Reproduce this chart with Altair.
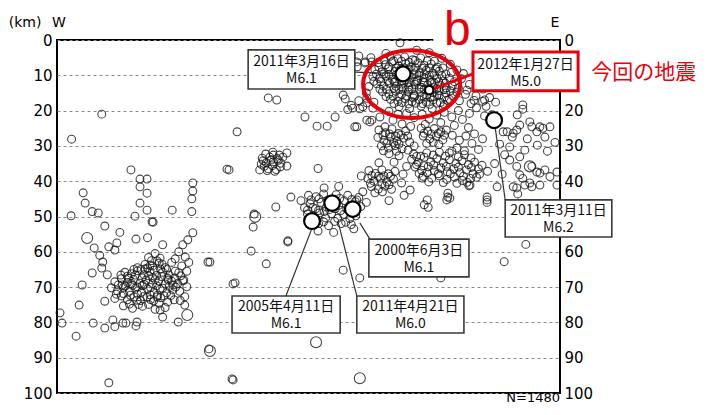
import altair as alt
import pandas as pd

# ---------------- hypocentres (x: W->E distance, depth km) ----------------
cluster_b_core = [
    (66.2,4.6),(67.8,5.3),(69.1,4.8),(70.7,5.6),(72.3,5.1),(63.9,6.4),(65.3,7.0),(66.6,6.2),(67.9,7.3),(69.3,6.7),
    (70.4,7.6),(71.8,6.5),(73.0,7.2),(74.4,6.8),(75.6,7.7),(63.2,8.4),(64.6,9.0),(65.8,8.2),(67.2,8.9),(68.4,8.1),
    (69.6,9.2),(70.9,8.5),(72.1,9.3),(73.4,8.6),(74.7,9.4),(76.0,8.8),(77.3,9.6),(62.8,10.3),(64.1,10.9),(65.4,10.2),
    (66.7,11.1),(67.9,10.5),(69.2,11.3),(70.5,10.6),(71.7,11.4),(73.0,10.7),(74.2,11.5),(75.5,10.9),(76.8,11.6),(78.0,10.8),
    (63.6,12.4),(64.9,13.0),(66.1,12.3),(67.4,13.1),(68.6,12.5),(69.9,13.3),(71.2,12.6),(72.4,13.4),(73.7,12.7),(74.9,13.5),
    (76.2,12.8),(77.4,13.6),(78.6,12.9),(64.7,14.6),(66.0,15.3),(67.3,14.5),(68.5,15.4),(69.8,14.7),(71.0,15.5),(72.3,14.8),
    (73.5,15.6),(74.8,14.9),(76.0,15.7),(77.3,15.0),(78.7,15.8),(66.3,16.8),(67.8,17.4),(69.2,16.6),(70.6,17.5),(72.0,16.9),
    (73.4,17.6),(74.8,16.9),(76.2,17.7),(77.6,17.1),(68.0,18.9),(70.1,19.4),(72.4,18.7),(74.6,19.5),(76.8,18.9),
    (66.0,9.8),(68.0,10.0),(70.0,9.9),(72.0,10.1),(74.0,10.0),(67.0,12.0),(69.0,12.0),(71.0,11.9),(73.0,12.1),(75.0,12.2),
    (68.0,14.0),(70.0,14.2),(72.0,13.9),(74.0,14.1),(76.0,14.3),(71.0,16.0),(73.0,16.2),(75.0,16.1),
]
cluster_b_fill = [
    (65.0,5.6),(66.9,5.9),(68.5,6.0),(70.0,6.3),(71.2,5.8),(73.6,5.9),(75.0,6.0),
    (64.0,7.7),(66.0,7.6),(67.5,8.0),(69.0,7.9),(70.0,8.2),(71.3,7.9),(72.6,8.0),(74.0,7.9),(75.3,8.2),(76.7,7.9),
    (63.5,9.7),(65.0,9.6),(67.5,9.8),(69.0,10.0),(71.0,9.6),(73.0,9.7),(75.0,9.9),(76.5,10.1),(78.4,9.2),
    (63.0,11.7),(64.4,11.8),(65.8,11.6),(67.2,11.9),(68.6,11.6),(70.0,12.0),(71.5,11.7),(72.8,11.8),(74.5,12.0),(75.9,11.8),
    (77.2,12.2),(79.0,11.8),(64.2,13.9),(65.5,14.0),(67.0,13.7),(68.8,13.7),(70.6,13.8),(73.0,13.9),(75.5,13.8),(77.0,14.0),
    (78.2,14.4),(79.5,14.8),(65.4,16.0),(66.8,15.9),(68.0,16.1),(69.5,15.8),(70.8,16.4),(72.6,15.9),(74.2,16.3),(75.6,15.5),
    (77.0,16.2),(78.0,16.8),(67.0,18.0),(68.6,17.7),(69.9,18.1),(71.3,17.9),(72.7,18.0),(74.1,18.2),(75.5,17.9),(77.0,18.3),
]
cluster_b_halo = [
    (60.0,4.5),(61.3,6.2),(59.7,7.6),(62.4,5.0),(65.4,3.8),(68.2,0.8),(71.5,2.9),(74.0,3.6),(76.5,5.2),(78.2,6.9),
    (79.5,8.5),(80.4,11.0),(79.8,13.6),(81.2,15.4),(80.0,17.2),(82.3,18.0),(63.0,17.6),(61.5,15.0),(62.0,13.2),
    (59.6,6.2),(61.2,6.5),(62.6,6.2),(80.8,9.5),(82.0,12.6),(81.5,14.2),(83.3,15.8),(84.7,13.9),(86.0,16.3),(85.3,18.8),
    (87.2,17.6),(82.9,17.1),
]
below_b = [
    (58.5,18.5),(60.0,17.2),(61.6,16.5),(60.8,18.9),(62.8,19.3),(64.2,21.8),(62.2,23.2),(61.6,22.7),(59.6,24.6),(65.2,24.6),
    (66.8,22.7),(66.0,20.2),(67.8,21.0),(69.5,20.8),(71.0,22.0),(72.6,21.0),(74.0,22.4),(75.5,21.3),(77.0,20.5),(78.5,21.8),
    (79.8,20.0),(68.6,23.8),(70.3,24.5),(73.2,23.9),(76.3,23.4),(79.0,24.2),(80.6,22.5),(82.0,20.8),(83.4,19.2),(84.6,17.4),
    (85.0,21.5),(81.8,24.8),(83.0,26.6),
]
east_side = [
    (92.6,18.4),(92.6,19.6),(91.5,21.2),(94.0,23.2),(96.0,24.6),(91.4,25.5),(90.5,27.5),(89.5,26.0),(90.7,26.4),(92.0,24.1),
    (93.0,31.2),(94.4,24.6),(95.4,26.0),(96.6,25.0),(98.0,24.6),(97.0,27.5),(90.0,30.3),(92.0,33.1),(91.4,35.8),(92.6,39.2),
    (94.4,35.8),(96.0,37.7),(98.0,38.7),(94.4,41.6),(85.5,45.3),(87.5,41.6),(99.4,37.4),(97.0,36.8),(95.4,37.4),(90.0,34.0),
    (92.0,38.2),(90.7,41.6),(94.0,40.5),(91.4,41.9),(93.0,41.1),(96.0,41.1),(91.6,43.6),(99.4,41.1),(88.7,26.0),(86.5,21.2),
    (85.0,17.0),(88.0,29.5),(89.0,32.5),(87.0,35.0),(88.5,38.0),(97.5,31.5),(99.0,29.0),(95.5,29.8),(93.5,28.0),
]
slab = [
    (64.0,25.5),(65.3,26.3),(66.6,25.2),(67.9,26.5),(69.3,25.8),(63.8,27.6),(65.0,28.4),(66.3,27.5),(67.6,28.6),(68.9,27.8),
    (70.1,28.9),(64.5,30.0),(65.9,30.6),(67.2,29.9),(68.6,30.8),(69.8,31.2),(66.0,32.2),(68.0,32.8),
    (72.4,25.0),(73.7,25.8),(75.0,25.1),(76.3,26.0),(77.4,25.5),(72.8,27.2),(74.1,28.0),(75.4,27.3),(76.7,28.3),(73.5,29.3),
    (75.9,29.6),(78.6,27.0),(80.0,28.4),(81.3,27.2),(82.5,29.3),(79.5,30.6),(81.0,31.4),(83.8,31.0),(84.6,28.0),(78.0,32.0),
    (71.0,30.0),(71.5,33.0),
    (70.5,33.8),(71.8,34.6),(73.0,33.2),(74.3,34.5),(75.5,33.6),(76.8,34.8),(78.0,33.9),(79.3,35.0),(80.5,34.2),(81.8,35.3),
    (83.0,34.6),(71.2,36.0),(72.5,36.9),(73.8,35.9),(75.0,37.0),(76.3,36.2),(77.6,37.3),(78.9,36.5),(80.1,37.6),(81.4,36.8),
    (82.7,37.9),(72.8,38.6),(74.5,39.2),(76.0,38.5),(77.5,39.5),(79.0,38.8),(80.6,39.8),(82.2,39.2),(84.0,38.0),(84.5,35.5),
    (85.6,37.2),(73.5,32.0),(76.0,31.8),(78.5,31.5),(81.0,32.5),
    (62.0,37.0),(63.3,37.8),(64.6,36.8),(65.9,37.9),(67.2,37.2),(61.8,39.2),(63.0,40.0),(64.3,39.1),(65.6,40.2),(66.9,39.4),
    (62.5,41.5),(63.9,42.2),(65.2,41.4),(66.5,42.3),(68.5,40.5),(68.8,38.0),(69.5,35.8),(67.0,34.6),(64.0,34.8),(60.5,38.5),
    (70.2,42.5),(72.6,39.1),(77.7,44.5),(82.1,41.1),(85.5,44.5),(78.1,44.8),(73.6,45.3),(60.8,43.0),(59.6,45.3),(73.0,46.7),
    (73.8,47.4),(77.5,45.3),(85.5,46.0),(77.7,43.4),(81.9,41.3),(69.0,44.0),(66.0,45.5),
]
slab_fill = [
    (70.9,32.3),(72.3,32.9),(74.8,32.6),(77.2,32.9),(79.8,33.1),(82.3,33.4),(71.5,35.3),(72.9,35.6),(74.9,35.4),(77.4,35.8),
    (79.8,36.0),(82.4,36.1),(83.8,36.5),(72.0,37.8),(73.6,37.6),(75.8,37.9),(78.2,37.9),(80.8,38.6),(83.4,38.9),(73.9,40.2),
    (76.8,40.4),(79.5,40.6),(81.5,40.3),(64.8,26.9),(66.1,26.6),(67.3,27.2),(68.4,26.9),(65.6,29.2),(66.9,29.0),(68.0,29.5),
    (64.9,31.4),(67.5,31.5),(69.7,27.2),(73.0,26.4),(74.4,26.6),(75.8,26.5),(77.0,27.0),(74.8,29.0),(62.6,38.4),(63.9,38.6),
    (65.0,38.5),(66.3,38.6),(62.3,40.6),(64.6,40.7),(66.0,41.0),(63.2,43.3),(64.7,43.0),
]
middle = [
    (56.9,15.6),(57.3,16.7),(58.8,19.3),(61.6,17.8),(49.3,21.8),(51.7,24.4),(53.7,24.4),(55.3,21.8),(59.2,24.6),(62.6,22.7),
    (42.0,16.4),(43.7,17.0),(35.8,26.0),(57.8,19.7),(60.2,19.5),
    (40.8,33.5),(41.6,34.8),(42.3,33.2),(43.0,34.5),(43.8,33.6),(44.5,34.9),(41.2,35.8),(42.0,36.5),(42.8,35.6),(43.6,36.7),
    (44.4,35.9),(41.5,32.3),(42.9,31.8),(44.2,32.6),(45.7,32.0),(45.7,35.7),(40.3,36.8),(43.3,37.2),(33.8,36.6),(34.2,36.8),
    (51.9,36.4),(41.0,34.2),(42.6,34.0),(44.0,34.1),(41.8,37.0),(43.0,32.6),(44.9,33.2),(40.6,35.2),
    (49.2,47.5),(50.3,46.4),(51.4,47.8),(52.5,46.0),(53.6,47.3),(54.8,45.2),(56.0,46.8),(57.1,45.5),(58.2,46.9),(59.3,45.8),
    (60.4,47.2),(49.8,49.3),(51.0,50.2),(52.2,49.0),(53.4,50.4),(54.6,49.2),(55.8,50.5),(57.0,49.4),(58.2,50.6),(59.4,49.8),
    (51.5,44.4),(53.0,43.6),(55.5,43.8),(57.8,44.0),(60.0,44.6),(52.0,52.0),(54.0,52.6),(56.5,52.0),(58.5,52.3),(48.5,45.5),
    (50.0,44.0),(53.1,41.9),(46.5,44.5),(43.5,47.3),(61.5,46.0),(56.0,41.5),(59.0,53.5),(55.0,54.5),(51.9,54.1),
    (49.8,48.2),(50.9,47.5),(52.0,48.3),(53.1,48.6),(54.2,48.0),(55.3,47.8),(56.4,48.3),(57.6,47.9),(58.8,48.4),(50.5,45.3),
    (52.1,45.0),(53.8,45.4),(56.2,44.9),(58.6,45.2),(50.8,51.3),(53.0,51.5),(55.2,51.4),(57.4,51.6),
    (39.2,49.3),(39.0,53.0),(45.9,56.9),(38.6,59.8),(41.6,63.4),(30.4,62.9),(35.4,68.8),(56.9,65.2),(60.2,67.4),
    (30.2,87.5),(34.8,96.0),(76.3,67.4),(93.2,57.9),(88.9,62.8),(35.0,69.1),(45.9,57.2),
]
west = [
    (19.5,60.5),(20.5,61.8),(18.8,62.5),(17.5,63.6),(19.0,64.0),(20.3,63.2),(21.5,64.5),(16.0,64.5),(22.8,63.0),
    (13.5,65.8),(14.8,66.2),(16.0,65.4),(17.3,66.5),(18.5,65.6),(19.8,66.7),(21.0,65.8),(22.3,66.6),(23.5,65.5),(24.6,66.8),
    (11.5,68.5),(12.8,67.6),(14.0,68.7),(15.2,67.8),(16.5,68.9),(17.7,68.0),(19.0,69.0),(20.2,68.2),(21.5,69.1),(22.8,68.3),
    (24.0,69.0),(25.2,68.0),(10.8,70.2),(12.0,71.0),(13.2,70.1),(14.4,71.2),(15.6,70.3),(16.8,71.4),(18.0,70.5),(19.3,71.5),
    (20.5,70.6),(21.8,71.6),(23.0,70.8),(24.4,71.2),(11.5,73.2),(12.8,72.5),(14.0,73.6),(15.3,72.8),(16.6,73.8),(17.9,72.9),
    (19.2,73.9),(20.6,73.0),(22.0,74.2),(13.2,75.3),(15.0,76.0),(17.0,75.4),(19.5,76.3),(21.5,75.8),
    (15.0,69.5),(17.0,69.6),(19.0,67.3),(16.0,72.0),(18.5,72.2),(14.0,66.9),(20.0,72.3),(13.0,69.4),(22.0,67.5),(17.5,64.9),
    (25.0,58.0),(26.0,56.6),(27.0,54.6),(24.2,60.0),(25.5,61.5),(23.5,62.0),(26.2,63.0),(24.8,64.0),(25.8,65.5),(23.1,69.4),
    (25.0,68.2),(25.8,69.9),(25.4,72.7),(25.4,75.1),
    (14.7,36.8),(16.5,39.4),(17.9,39.4),(16.5,41.6),(17.9,43.4),(16.5,46.2),(17.9,48.2),(15.5,49.9),(19.1,51.6),(27.0,40.5),
    (27.0,42.8),(26.8,45.0),(26.8,48.6),(22.9,48.2),(5.2,43.3),(5.6,46.2),(7.0,48.6),(8.2,49.0),(2.8,49.8),(9.5,52.7),
    (7.4,58.9),(10.3,58.6),(11.9,57.5),(11.5,59.5),(15.7,56.4),(9.1,62.9),(8.9,64.6),(7.0,66.0),(5.0,69.4),
    (4.4,75.1),(0.6,77.3),(1.0,80.2),(7.2,80.2),(11.1,79.3),(13.1,80.2),(15.9,79.9),(24.1,79.9),(20.5,76.5),(30.0,62.9),
    (3.8,83.9),(9.5,81.6),(11.5,81.2),(13.7,80.2),(15.7,81.0),(10.3,97.1),(18.9,51.5),(35.0,96.3),
    (2.9,28.1),(8.9,21.0),(18.0,56.0),(12.5,54.5),(21.0,58.0),(8.5,61.0),(10.0,66.5),(9.5,74.0),(21.0,78.5),
]
west_fill = [
    (18.2,61.6),(19.9,62.6),(18.5,63.9),(20.9,63.5),(15.3,65.0),(16.7,65.0),(18.0,64.6),(19.3,65.2),(20.6,64.9),(21.8,65.0),
    (12.7,66.6),(14.2,67.5),(15.6,66.6),(16.9,67.4),(18.2,66.8),(19.5,67.9),(20.8,67.0),(22.1,68.0),(23.4,67.4),(24.2,65.9),
    (12.2,69.4),(13.6,69.7),(14.8,69.0),(16.0,70.0),(17.3,69.2),(18.6,70.1),(19.8,69.6),(21.0,70.3),(22.3,69.8),(23.6,70.0),
    (11.8,72.0),(13.2,71.8),(14.6,72.3),(15.9,73.7),(17.2,72.7),(18.6,73.5),(19.9,72.8),(21.3,72.5),(22.6,72.4),(14.4,74.8),
    (16.2,74.9),(18.2,74.9),(20.3,74.6),(23.3,73.6),(24.5,73.8),
]
large_pts = [(25.9,77.9),(30.4,88.1),(6.0,56.1),(39.4,50.1),(51.5,85.6),(60.2,95.8),(94.0,35.8)]

# ---------------- labelled events ----------------
ev_date = ["2011年3月16日", "2012年1月27日", "2011年3月11日", "2000年6月3日", "2011年4月21日", "2005年4月11日"]
ev_mag = ["M6.1", "M5.0", "M6.2", "M6.1", "M6.0", "M6.1"]
ev_x = [68.8, 74.0, 86.9, 58.8, 54.7, 50.7]
ev_depth = [9.6, 14.2, 22.7, 47.9, 46.2, 51.3]
ev_size = [220, 70, 250, 240, 240, 250]

# annotation boxes (x1, x2, depth1, depth2), first-line depth, and leader lines
box_x1 = [38.0, 82.7, 89.1, 62.0, 59.6, 34.8]
box_x2 = [59.2, 103.6, 110.3, 81.9, 80.9, 56.3]
box_d1 = [2.8, 3.4, 45.3, 56.4, 72.5, 72.5]
box_d2 = [13.9, 14.4, 55.8, 67.1, 83.0, 83.0]
line1_d = [6.2, 7.0, 48.5, 59.8, 75.7, 75.7]
lead_x1 = [59.2, 74.6, 87.1, 60.2, 55.9, 50.7]
lead_d1 = [9.1, 13.9, 24.6, 51.8, 51.6, 53.3]
lead_x2 = [68.8, 82.7, 89.1, 62.2, 59.6, 45.5]
lead_d2 = [9.6, 9.6, 45.3, 56.4, 72.5, 72.5]
highlight = [False, True, False, False, False, False]

RED = "#e8000b"
GREY = "#333333"
FONT = "DejaVu Sans"
JP = "Noto Sans CJK JP"

XS = alt.Scale(domain=[0, 100], nice=False, zero=False)
YS = alt.Scale(domain=[0, 100], reverse=True, nice=False, zero=False)


def X(f="x"):
    return alt.X(f"{f}:Q", scale=XS, axis=None)


def Y(f="d", axis=None):
    return alt.Y(f"{f}:Q", scale=YS, axis=axis)


small = pd.DataFrame(cluster_b_core + cluster_b_fill + cluster_b_halo + below_b + east_side + slab + slab_fill
                     + middle + west + west_fill, columns=["x", "d"])
big = pd.DataFrame(large_pts, columns=["x", "d"])

left_axis = alt.Axis(values=list(range(0, 101, 10)), grid=True, gridDash=[3, 3], gridColor="#8a8a8a",
                     gridWidth=1, domain=False, ticks=False, labelFontSize=15, labelFont=FONT,
                     labelColor="black", labelPadding=5, title=None, orient="left")
# right-hand labels 10 and 50 are hidden behind the annotation boxes in the original
right_axis = alt.Axis(values=[0, 20, 30, 40, 60, 70, 80, 90, 100], grid=False, domain=False, ticks=False,
                      labelFontSize=15, labelFont=FONT, labelColor="black", labelPadding=4,
                      title=None, orient="right")

pts = alt.Chart(small).mark_point(shape="circle", filled=False, color="#1a1a1a", strokeWidth=1.1,
                                  opacity=0.8, size=62).encode(x=X(), y=Y(axis=left_axis))
pts_big = alt.Chart(big).mark_point(shape="circle", filled=False, color="#1a1a1a", strokeWidth=1.1,
                                    opacity=0.8, size=120).encode(x=X(), y=Y(axis=right_axis))

leads = pd.DataFrame({"x": lead_x1, "d": lead_d1, "x2": lead_x2, "d2": lead_d2,
                      "c": [RED if h else GREY for h in highlight],
                      "w": [3 if h else 1.2 for h in highlight]})
lead_layer = alt.Chart(leads).mark_rule().encode(
    x=X(), y=Y(), x2="x2:Q", y2="d2:Q",
    color=alt.Color("c:N", scale=None), strokeWidth=alt.StrokeWidth("w:Q", scale=None))

events = pd.DataFrame({"x": ev_x, "d": ev_depth, "s": ev_size})
ev_layer = alt.Chart(events).mark_point(shape="circle", filled=True, fill="white", stroke="black",
                                        strokeWidth=2.2, opacity=1, fillOpacity=1).encode(
    x=X(), y=Y(), size=alt.Size("s:Q", scale=None))

boxes = pd.DataFrame({"x": box_x1, "x2": box_x2, "d": box_d1, "d2": box_d2,
                      "c": [RED if h else "#3a3a3a" for h in highlight],
                      "w": [3 if h else 1.6 for h in highlight]})
box_layer = alt.Chart(boxes).mark_rect(fill="white").encode(
    x=X(), x2="x2:Q", y=Y(), y2="d2:Q",
    stroke=alt.Stroke("c:N", scale=None), strokeWidth=alt.StrokeWidth("w:Q", scale=None))

labels = pd.DataFrame({
    "x": [(a + b) / 2 for a, b in zip(box_x1, box_x2)],
    "d": line1_d,
    "t": [f"{a}\n{b}" for a, b in zip(ev_date, ev_mag)],
})
label_layer = alt.Chart(labels).mark_text(font=JP, fontSize=14, color="#111111", baseline="middle",
                                          align="center", lineBreak="\n", lineHeight=17).encode(
    x=X(), y=Y(), text="t:N")

# red ellipse around the cluster (custom symbol path: cubic Bezier ellipse, rx:ry = 1:0.7)
ELLIPSE = ("M 1 0 C 1 0.3866 0.5523 0.7 0 0.7 C -0.5523 0.7 -1 0.3866 -1 0 "
           "C -1 -0.3866 -0.5523 -0.7 0 -0.7 C 0.5523 -0.7 1 -0.3866 1 0 Z")
ell = alt.Chart(pd.DataFrame({"x": [70.5], "d": [12.5]})).mark_point(
    shape=ELLIPSE, size=9409, filled=False, color=RED, strokeWidth=4, opacity=1).encode(x=X(), y=Y())

# gap in the top frame behind the "b"
gap = alt.Chart(pd.DataFrame({"x": [74.8], "x2": [83.2], "d": [-1.5], "d2": [1.5]})).mark_rect(
    fill="white").encode(x=X(), x2="x2:Q", y=Y(), y2="d2:Q")
b_text = alt.Chart(pd.DataFrame({"x": [79.6], "d": [1.4], "t": ["b"]})).mark_text(
    font="Liberation Sans", fontSize=48, color=RED, baseline="alphabetic", align="center").encode(
    x=X(), y=Y(), text="t:N")
konkai = alt.Chart(pd.DataFrame({"x": [106.2], "d": [9.4], "t": ["今回の地震"]})).mark_text(
    font=JP, fontSize=21, color=RED, baseline="middle", align="left").encode(x=X(), y=Y(), text="t:N")

corner = pd.DataFrame({"x": [-9.6, 0.4, 99.0, 100.0], "d": [-4.8, -4.8, -4.8, 102.6],
                       "t": ["(km)", "W", "E", "N=1480"]})
corner_l = alt.Chart(corner.iloc[:1]).mark_text(font=FONT, fontSize=14, color="black", align="left",
                                                baseline="middle").encode(x=X(), y=Y(), text="t:N")
corner_c = alt.Chart(corner.iloc[1:3]).mark_text(font=FONT, fontSize=14, color="black", align="center",
                                                 baseline="middle").encode(x=X(), y=Y(), text="t:N")
corner_r = alt.Chart(corner.iloc[3:]).mark_text(font=FONT, fontSize=13, color="black", align="right",
                                                baseline="alphabetic").encode(x=X(), y=Y(), text="t:N")

chart = alt.layer(
    pts, pts_big, lead_layer, ev_layer, box_layer, label_layer, ell, gap, b_text, konkai,
    corner_l, corner_c, corner_r,
).resolve_axis(y="independent").properties(
    width=503, height=353,
    autosize=alt.AutoSizeParams(type="none"),
    padding={"left": 49, "top": 32, "right": 139, "bottom": 13},
).configure_view(stroke="black", strokeWidth=2)

chart.save("out.html", embed_options={"renderer": "svg", "actions": False})
